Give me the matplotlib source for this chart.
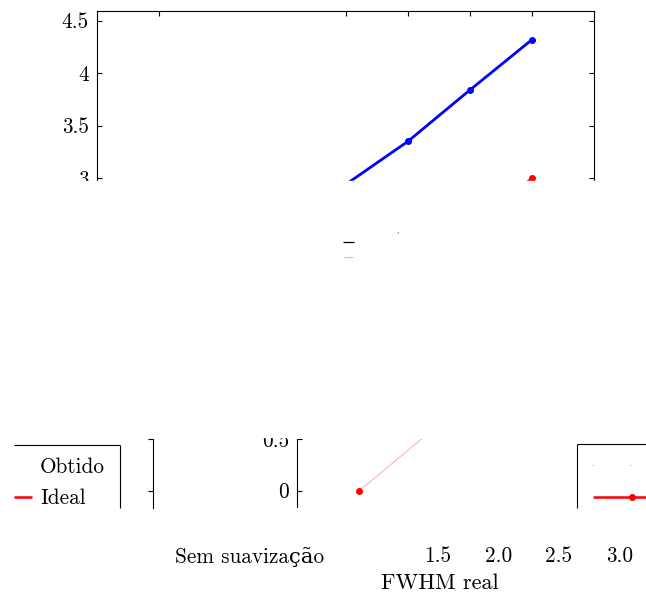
import matplotlib
matplotlib.use("Agg")
import matplotlib.pyplot as plt
from matplotlib.patches import Rectangle
from matplotlib.lines import Line2D

plt.rcParams["font.family"] = ["cmr10", "DejaVu Serif"]
plt.rcParams["axes.formatter.use_mathtext"] = True

W, H = 646, 601

# data
fwhm = [0.0, 1.5, 2.0, 2.5, 3.0]
tick_labels = ["Sem suavização", "1.5", "2.0", "2.5", "3.0"]
obtido_x = [1.5, 2.0, 2.5, 3.0]
obtido_y = [2.94, 3.35, 3.84, 4.32]
ideal_y = [0.0, 1.5, 2.0, 2.5, 3.0]
top_yticks = [3, 3.5, 4, 4.5]
top_ylabels = ["3", "3.5", "4", "4.5"]
low_yticks = [0, 0.5]
low_ylabels = ["0", "0.5"]

blue = "#0000ff"
red = "#ff0000"
FS = 15.3


def box(x0, x1, y0, y1):
    # pixel box (y from top) -> figure fraction rect
    return [x0 / W, 1 - y1 / H, (x1 - x0) / W, (y1 - y0) / H]


def frag(fig, x0, x1, y0, y1, px0, sx, py0, sy, z=3):
    # axes on a pixel box, with data 0 at (px0, py0) and sx / sy pixels per unit
    ax = fig.add_axes(box(x0, x1, y0, y1), zorder=z)
    ax.set_xlim((x0 - px0) / sx, (x1 - px0) / sx)
    ax.set_ylim((py0 - y1) / sy, (py0 - y0) / sy)
    ax.patch.set_alpha(0)
    return ax


def hide_spines(ax, keep=()):
    for k, s in ax.spines.items():
        s.set_visible(k in keep)
        s.set_linewidth(0.8)


def fline(fig, xs, ys, **kw):
    kw.setdefault("color", "black")
    kw.setdefault("lw", 0.8)
    kw.setdefault("zorder", 5)
    fig.add_artist(Line2D([x / W for x in xs], [1 - y / H for y in ys],
                          transform=fig.transFigure, solid_capstyle="butt", **kw))


fig = plt.figure(figsize=(W / 100, H / 100), dpi=100)

# main panel
ax = frag(fig, 97.3, 594, 10.7, 509.5, 159.4, 124.2, 493.2, 105, z=0)
for s in ax.spines.values():
    s.set_linewidth(0.8)
ax.plot(fwhm, ideal_y, color=red, lw=2, marker="o", ms=4)
ax.plot(obtido_x, obtido_y, color=blue, lw=2, marker="o", ms=4)
ax.set_xticks(fwhm)
ax.xaxis.set_ticks_position("top")
ax.set_yticks(top_yticks)
ax.set_yticklabels(top_ylabels)
ax.yaxis.set_ticks_position("both")
ax.tick_params(direction="in", length=3.6, width=0.8, labelsize=FS, pad=6,
               labeltop=False, labelbottom=False, labelright=False)

# everything below the top strip is blank
fig.add_artist(Rectangle((0, 0), 1, 1 - 181 / H, transform=fig.transFigure,
                         color="white", zorder=1))

# lower strip: left axis piece with the first ideal point
axm = frag(fig, 297.3, 450, 438.5, 507, 359.4, 124.2, 490.7, 103.4)
hide_spines(axm, keep=("left",))
axm.plot(fwhm[:2], ideal_y[:2], color="#ff9c9c", lw=0.6)
axm.plot(fwhm[:1], ideal_y[:1], color=red, marker="o", ms=4, ls="none")
axm.set_xticks([])
axm.set_yticks(low_yticks)
axm.set_yticklabels(low_ylabels)
axm.tick_params(direction="in", length=3.6, width=0.8, labelsize=FS, pad=5.8)
fig.add_artist(Rectangle((240 / W, 1 - 436.7 / H), 56 / W, 20 / H,
                         transform=fig.transFigure, color="white", zorder=4))

# lower strip: right axis piece
axb = frag(fig, 130, 153.3, 438.5, 508, 0, 124.2, 491, 104)
hide_spines(axb, keep=("right",))
axb.set_xticks([])
axb.set_yticks(low_yticks)
axb.yaxis.set_ticks_position("right")
axb.tick_params(direction="in", length=3.6, width=0.8, labelright=False)

# legend pieces
fline(fig, [14, 120.5], [445, 445])
fline(fig, [120.5, 120.5], [445, 508])
fig.text(40 / W, 1 - 473.3 / H, "Obtido", fontsize=FS, va="baseline", zorder=5)
fig.text(40 / W, 1 - 504 / H, "Ideal", fontsize=FS, va="baseline", zorder=5)
fline(fig, [14, 32], [496.7, 496.7], color=red, lw=1.8)

fline(fig, [577, 646], [444, 444])
fline(fig, [577, 577], [444, 508])
fline(fig, [593, 646], [496.5, 496.5], color=red, lw=1.8)
fline(fig, [632], [496.5], color=red, marker="o", ms=4, ls="none")
fline(fig, [592, 594], [465, 465], color="#c8c8ff", lw=0.8)
fline(fig, [629, 631], [465, 465], color="#c8c8ff", lw=0.8)

# stray bits in the blank area
fline(fig, [343.3, 354], [241.7, 241.7], lw=0.9)
fline(fig, [344, 353], [257.3, 257.3], color="#c4c4c4", lw=0.8)
fline(fig, [398, 398.6], [232, 234], color="#888888", lw=0.6)

# x tick labels
axs = frag(fig, 150, 350, 540, 541, 250, 124.2, 0, 100)
axn = frag(fig, 400, 646, 540, 541, 256.5, 121, 0, 100)
for a, ticks, labs in ((axs, fwhm[:1], tick_labels[:1]), (axn, fwhm[1:], tick_labels[1:])):
    hide_spines(a)
    a.set_yticks([])
    a.set_xticks(ticks)
    a.set_xticklabels(labs)
    a.tick_params(length=0, labelsize=FS, pad=4.2)

fig.text(440 / W, 1 - 589.3 / H, "FWHM real", fontsize=16, ha="center",
         va="baseline", zorder=5)

fig.savefig("out.png", dpi=100, facecolor="white")
